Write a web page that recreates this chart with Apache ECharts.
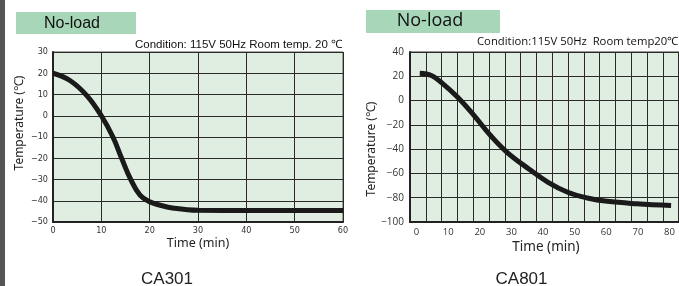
<!DOCTYPE html>
<html><head><meta charset="utf-8">
<script src="https://cdn.jsdelivr.net/npm/echarts@6/dist/echarts.min.js"></script>
<style>html,body{margin:0;padding:0;background:#fff}#c{width:679px;height:286px}</style>
</head><body><div id="c"></div>
<script>
// CA301 data
var ca301Time = [0, 3.5, 7, 10, 12.4, 14.2, 16, 18, 20, 22, 25, 30, 40, 50, 60];
var ca301Temp = [20, 16.6, 9.5, 0, -10, -20, -29.6, -37.4, -40.5, -42, -43.5, -44.5, -44.6, -44.6, -44.6];
// CA801 data
var ca801Time = [1, 4.7, 7.8, 13, 18.2, 23.4, 28.6, 35.5, 41.6, 47.8, 54, 60.3, 69.6, 80.5];
var ca801Temp = [22.4, 20.6, 15, 2.7, -12.4, -28.8, -42.6, -56.3, -67.3, -75.5, -80.2, -83, -85, -86.5];
// tick labels
var ca801TimeLabels = [0, 10, 20, 30, 40, 50, 60, 70, 80];
var titles = ['CA301', 'CA801'];
var badge = 'No-load';
var cond301 = 'Condition: 115V 50Hz Room temp. 20 \u2103';
var cond801 = 'Condition:115V 50Hz  Room temp20\u2103';
var yName = 'Temperature (\u2103)';
var xName = 'Time (min)';

function pairs(xs, ys){ return xs.map(function(x,i){ return [x, ys[i]]; }); }
function minus(v){ return String(v).replace('-', '\u2212'); }

var chart = echarts.init(document.getElementById('c'), null, {renderer:'canvas'});
var gridLine = {show:true, lineStyle:{color:'#2a2a2a', width:1}};
var bg = '#dfeee0';
chart.setOption({
  animation:false,
  backgroundColor:'#fff',
  grid:[
    {left:53, top:52, width:290, height:170, show:true, backgroundColor:bg, borderColor:'#555', borderWidth:1},
    {left:410, top:52, width:273, height:170, show:true, backgroundColor:bg, borderColor:'#333', borderWidth:1}
  ],
  xAxis:[
    {type:'value', gridIndex:0, min:0, max:60, interval:10,
     axisLine:{show:true, onZero:false, lineStyle:{color:'#222', width:2}},
     axisTick:{show:false}, splitLine:gridLine,
     axisLabel:{fontFamily:'Liberation Sans Narrow, DejaVu Sans Condensed, sans-serif', fontSize:9, color:'#333', margin:4}},
    {type:'value', gridIndex:1, min:-2.08, max:83, interval:5,
     axisLine:{show:true, onZero:false, lineStyle:{color:'#222', width:2}},
     axisTick:{show:false}, splitLine:gridLine,
     axisLabel:{customValues:ca801TimeLabels, fontFamily:'Open Sans, sans-serif', fontSize:9.5, color:'#333', margin:5}}
  ],
  yAxis:[
    {type:'value', gridIndex:0, min:-50, max:30, interval:10,
     axisLine:{show:true, onZero:false, lineStyle:{color:'#222', width:2}},
     axisTick:{show:false}, splitLine:gridLine,
     axisLabel:{fontFamily:'Liberation Sans Narrow, DejaVu Sans Condensed, sans-serif', fontSize:9, color:'#333', margin:5, formatter:minus}},
    {type:'value', gridIndex:1, min:-100, max:40, interval:20,
     axisLine:{show:true, onZero:false, lineStyle:{color:'#222', width:2}},
     axisTick:{show:false}, splitLine:gridLine,
     axisLabel:{fontFamily:'Open Sans, sans-serif', fontSize:10, color:'#333', margin:6, formatter:minus}}
  ],
  series:[
    {type:'line', xAxisIndex:0, yAxisIndex:0, data:pairs(ca301Time, ca301Temp), smooth:0.4, showSymbol:false,
     lineStyle:{color:'#1a1a1a', width:5}},
    {type:'line', xAxisIndex:1, yAxisIndex:1, data:pairs(ca801Time, ca801Temp), smooth:0.4, showSymbol:false,
     lineStyle:{color:'#1a1a1a', width:5}}
  ],
  graphic:[
    {type:'rect', left:0, top:0, shape:{width:5, height:286}, style:{fill:'#555'}},
    {type:'rect', left:16, top:12, shape:{width:120, height:22}, style:{fill:'#a8d6b8'}},
    {type:'text', x:72, y:23.5, style:{text:badge, font:'16px Liberation Sans, Arial, sans-serif', fill:'#111', textAlign:'center', textVerticalAlign:'middle'}},
    {type:'rect', left:366, top:10, shape:{width:134, height:23}, style:{fill:'#a8d6b8'}},
    {type:'text', x:430, y:21, style:{text:badge, font:'18px Open Sans, sans-serif', fill:'#111', textAlign:'center', textVerticalAlign:'middle'}},
    {type:'text', x:342, y:45, style:{text:cond301, font:'11.5px Liberation Sans, Arial, sans-serif', fill:'#111', textAlign:'right', textVerticalAlign:'middle'}},
    {type:'text', x:477, y:42, style:{text:cond801, font:'11.3px Open Sans, sans-serif', fill:'#111', textAlign:'left', textVerticalAlign:'middle'}},
    {type:'text', x:20, y:123, rotation:Math.PI/2, style:{text:yName, font:'12px Noto Sans, sans-serif', fill:'#222', textAlign:'center', textVerticalAlign:'middle'}},
    {type:'text', x:372, y:149, rotation:Math.PI/2, style:{text:yName, font:'12px Noto Sans, sans-serif', fill:'#222', textAlign:'center', textVerticalAlign:'middle'}},
    {type:'text', x:198, y:243, style:{text:xName, font:'12.5px Noto Sans, sans-serif', fill:'#222', textAlign:'center', textVerticalAlign:'middle'}},
    {type:'text', x:546, y:247, style:{text:xName, font:'13.5px Noto Sans, sans-serif', fill:'#222', textAlign:'center', textVerticalAlign:'middle'}},
    {type:'text', x:167, y:279, style:{text:titles[0], font:'17px Liberation Sans, Arial, sans-serif', fill:'#222', textAlign:'center', textVerticalAlign:'middle'}},
    {type:'text', x:521.5, y:279, style:{text:titles[1], font:'17px Liberation Sans, Arial, sans-serif', fill:'#222', textAlign:'center', textVerticalAlign:'middle'}}
  ]
});
</script></body></html>
